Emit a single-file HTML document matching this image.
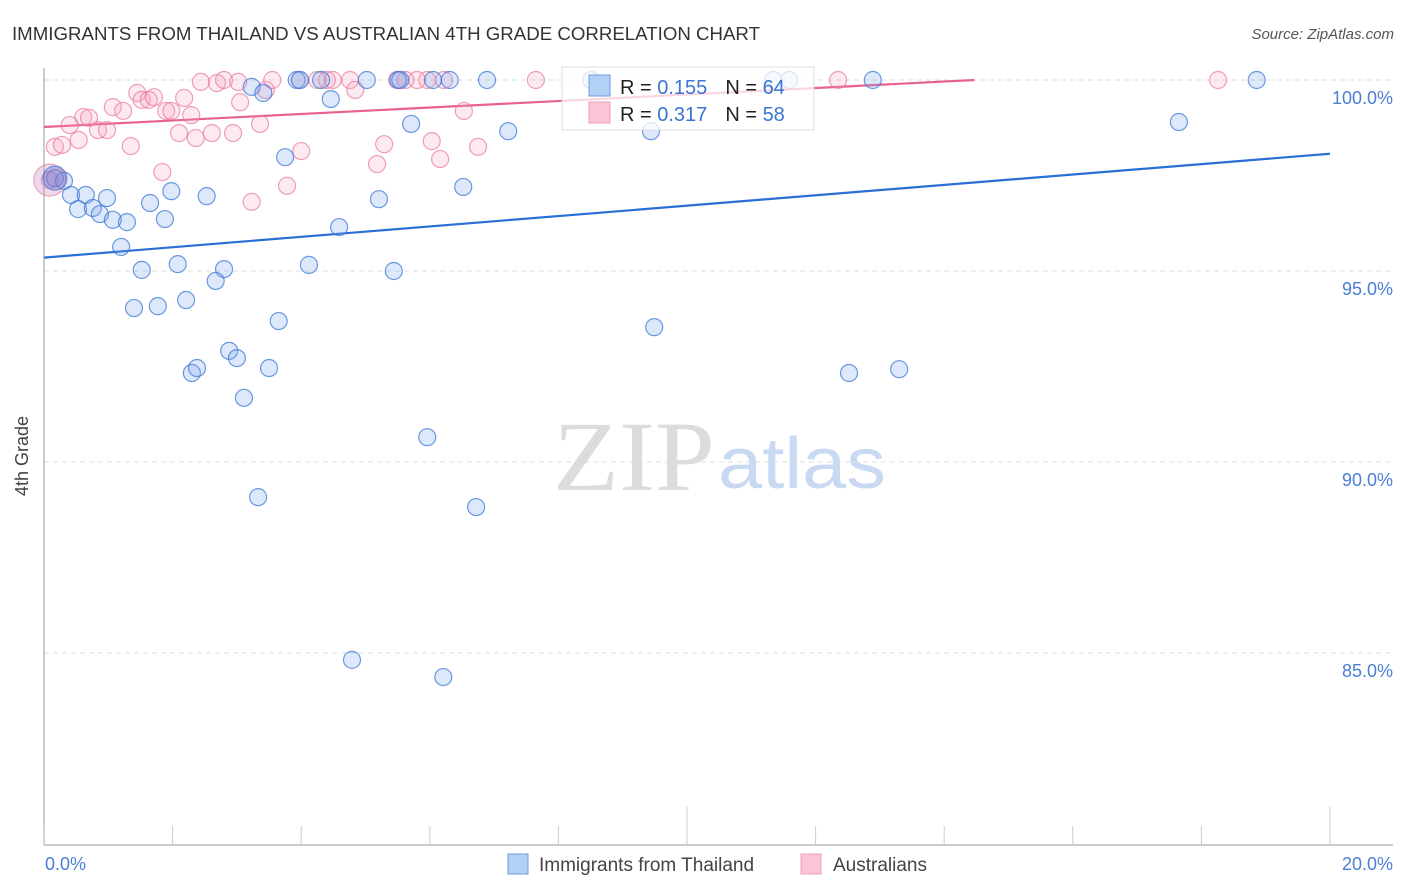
<!DOCTYPE html>
<html><head><meta charset="utf-8"><style>
html,body{margin:0;padding:0;background:#fff;}
svg{display:block;font-family:"Liberation Sans",sans-serif;}
</style></head><body>
<svg id="chart" width="1406" height="892" viewBox="0 0 1406 892">
<text x="12" y="40" font-size="18" fill="#333" textLength="748" lengthAdjust="spacingAndGlyphs">IMMIGRANTS FROM THAILAND VS AUSTRALIAN 4TH GRADE CORRELATION CHART</text>
<text x="1394" y="39" font-size="15" fill="#555" font-style="italic" text-anchor="end">Source: ZipAtlas.com</text>
<g>
<text x="553" y="490" font-family="Liberation Serif,serif" font-size="100" fill="#dcdcdc" textLength="162" lengthAdjust="spacingAndGlyphs">ZIP</text>
<text x="718" y="488" font-size="72" fill="#c9d9f1" textLength="168" lengthAdjust="spacingAndGlyphs">atlas</text>
</g>
<g id="grid"></g>
<g id="axes"></g>
<g id="lines"></g>
<g id="points"></g>
<text x="28" y="456" font-size="18" fill="#444" text-anchor="middle" transform="rotate(-90 28 456)">4th Grade</text>
<g>
<rect x="562" y="67" width="252" height="63" fill="rgba(255,255,255,0.75)" stroke="#ddd"/>
<rect x="589" y="75" width="21" height="21" fill="#b3d0f5" stroke="#6b9be0"/>
<rect x="589" y="102" width="21" height="21" fill="#fcc5d5" stroke="#eea0b8"/>
<text x="620" y="94" font-size="20" fill="#222">R = <tspan fill="#3a74d4">0.155</tspan><tspan dx="18">N = </tspan><tspan fill="#3a74d4">64</tspan></text>
<text x="620" y="121" font-size="20" fill="#222">R = <tspan fill="#3a74d4">0.317</tspan><tspan dx="18">N = </tspan><tspan fill="#3a74d4">58</tspan></text>
</g>
<g>
<rect x="508" y="854" width="20" height="20" fill="#b3d0f5" stroke="#6b9be0"/>
<text x="539" y="871" font-size="19" fill="#444">Immigrants from Thailand</text>
<rect x="801" y="854" width="20" height="20" fill="#fcc5d5" stroke="#eea0b8"/>
<text x="833" y="871" font-size="19" fill="#444">Australians</text>
</g>
</svg>
<script>
const xTickValues = [0,2,4,6,8,10,12,14,16,18,20];
const yTickValues = [100,95,90,85];
const yTickLabels = ["100.0%","95.0%","90.0%","85.0%"];
const xEndLabels = ["0.0%","20.0%"];
const thaiX = [8.51,3.93,3.98,4.31,5.02,5.51,5.54,6.05,6.31,6.89,11.34,11.59,12.89,18.86,3.23,3.41,4.46,5.71,7.22,9.44,17.65,3.75,0.17,0.31,0.42,0.65,0.98,0.53,0.76,0.87,1.07,1.29,1.65,1.98,2.53,1.88,5.21,6.52,1.20,4.59,1.52,2.08,2.80,4.12,5.44,2.67,2.21,1.40,1.77,3.65,9.49,2.88,3.00,2.30,2.38,3.50,12.52,13.30,3.11,5.96,3.33,6.72,4.79,6.21];
const thaiY = [100,100,100,100,100,100,100,100,100,100,100,100,100,100,99.82,99.66,99.50,98.85,98.66,98.66,98.90,97.98,97.43,97.36,96.99,96.99,96.91,96.62,96.65,96.49,96.34,96.28,96.78,97.09,96.96,96.36,96.88,97.20,95.63,96.15,95.03,95.18,95.05,95.16,95.00,94.74,94.24,94.03,94.08,93.69,93.53,92.91,92.72,92.33,92.46,92.46,92.33,92.43,91.68,90.65,89.08,88.82,84.82,84.37];
const ausX = [0.40,0.61,0.70,0.84,0.98,1.07,1.23,1.45,1.52,1.63,1.71,1.90,1.98,2.18,2.29,2.10,2.36,2.61,2.94,3.05,3.36,2.44,2.69,2.80,3.02,3.45,3.55,3.98,4.40,4.49,4.76,4.84,5.49,5.80,5.96,6.22,6.53,7.65,12.35,18.26,0.17,0.28,1.35,0.54,1.84,3.23,3.78,4.00,5.29,5.18,6.03,6.16,6.75,0.09,4.25,5.62];
const ausY = [98.82,99.03,99.01,98.69,98.69,99.29,99.19,99.66,99.48,99.48,99.55,99.19,99.19,99.53,99.08,98.61,98.48,98.61,98.61,99.42,98.85,99.95,99.92,100,99.95,99.74,100,100,100,100,100,99.74,100,100,100,100,99.19,100,100,100,98.25,98.30,98.27,98.43,97.59,96.81,97.23,98.14,98.32,97.80,98.40,97.93,98.25,97.38,100,100];
const thaiTrend = [95.35, 0.1360];
const ausTrend = [98.77, 0.0850];

const NS = "http://www.w3.org/2000/svg";
const X0=44, X1=1330, Y100=80, PX5=191;
const xs = v => X0 + (v/20)*(X1-X0);
const ys = v => Y100 + (100-v)/5*PX5;
function mk(tag, attrs, parent){const e=document.createElementNS(NS,tag);for(const k in attrs)e.setAttribute(k,attrs[k]);parent.appendChild(e);return e;}
const grid=document.getElementById('grid'), axes=document.getElementById('axes'), lines=document.getElementById('lines'), pts=document.getElementById('points');

yTickValues.forEach((v,i)=>{
  const g=mk('line',{x1:X0,x2:1393,y1:ys(v),y2:ys(v),stroke:'#ddd','stroke-dasharray':'5,4'},grid);
  
  
  const t=mk('text',{x:1393,y:ys(v)+24,'font-size':18,fill:'#4a7fd4','text-anchor':'end'},grid);
  t.textContent=yTickLabels[i];
  
  
});
const ya=mk('line',{x1:X0,x2:X0,y1:68,y2:845,stroke:'#bbb','stroke-width':1.5},axes);


const xa=mk('line',{x1:X0,x2:1393,y1:845,y2:845,stroke:'#bbb','stroke-width':1.5},axes);


xTickValues.forEach(v=>{
  const tall = (v===10||v===20);
  const t=mk('line',{x1:xs(v),x2:xs(v),y1:tall?807:826,y2:845,stroke:'#ccc'},axes);
  
  
});
const l0=mk('text',{x:45,y:870,'font-size':18,fill:'#4a7fd4'},axes);
l0.textContent=xEndLabels[0];


const l1=mk('text',{x:1393,y:870,'font-size':18,fill:'#4a7fd4','text-anchor':'end'},axes);
l1.textContent=xEndLabels[1];



function drawPts(X,Y,fill,stroke,name){
  X.forEach((x,i)=>{
    const c=mk('circle',{cx:xs(x),cy:ys(Y[i]),r:8.5,fill:fill,stroke:stroke,'stroke-width':1.2},pts);
    
    
  });
}
drawPts(ausX,ausY,'rgba(246,160,186,0.22)','rgba(232,120,155,0.7)','australians-point');
drawPts(thaiX,thaiY,'rgba(120,165,235,0.25)','rgba(60,120,215,0.75)','thailand-point');
const bigA=mk('circle',{cx:xs(ausX[53]),cy:ys(ausY[53]),r:16,fill:'rgba(200,150,200,0.35)',stroke:'rgba(232,120,155,0.75)'},pts);


const bigT=mk('circle',{cx:xs(thaiX[22]),cy:ys(thaiY[22]),r:12,fill:'rgba(90,100,200,0.35)',stroke:'rgba(60,120,215,0.8)'},pts);



const tEnd=20;
const tl=mk('line',{x1:xs(0),y1:ys(thaiTrend[0]),x2:xs(tEnd),y2:ys(thaiTrend[0]+thaiTrend[1]*tEnd),stroke:'#2a6fd6','stroke-width':2.2},lines);


const aEnd=Math.min(20,(100-ausTrend[0])/ausTrend[1]);
const al=mk('line',{x1:xs(0),y1:ys(ausTrend[0]),x2:xs(aEnd),y2:ys(ausTrend[0]+ausTrend[1]*aEnd),stroke:'#e8628c','stroke-width':2.2},lines);


</script>
</body></html>
